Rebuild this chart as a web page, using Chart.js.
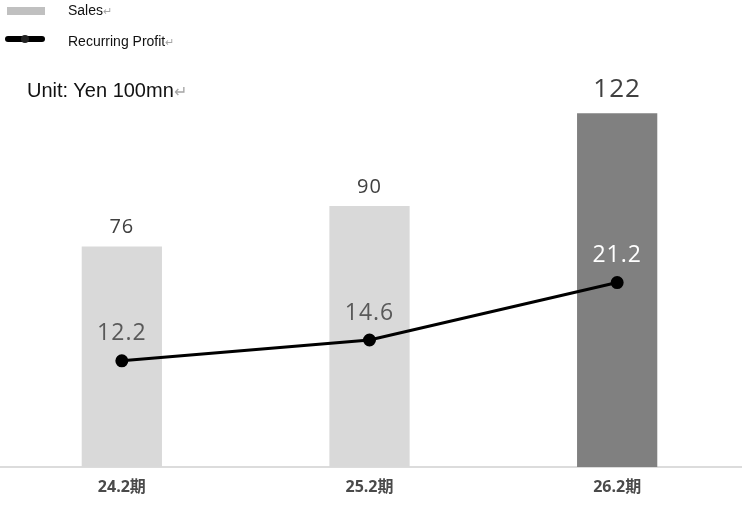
<!DOCTYPE html>
<html>
<head>
<meta charset="utf-8">
<script src="https://cdn.jsdelivr.net/npm/chart.js@4"></script>
<style>
  body { margin: 0; background: #fff; }
  #wrap { position: relative; width: 745px; height: 505px; overflow: hidden; }
  #chart { position: absolute; left: -10px; top: 0; }
  .lg { position: absolute; font-family: "Liberation Sans", Arial, sans-serif; color: #111; white-space: nowrap; }
  .pm { color: #a6a6a6; font-size: 0.8em; }
  #lgSales { left: 68px; top: 2px; font-size: 14px; }
  #lgProfit { left: 68px; top: 33px; font-size: 14px; }
  #unit { left: 27px; top: 79px; font-size: 20px; }
  #boxSales { position: absolute; left: 7px; top: 7px; width: 38px; height: 8px; background: #c0c0c0; }
  #lineProfit { position: absolute; left: 5px; top: 36px; width: 40px; height: 6px; border-radius: 3px; background: #000; }
  #dotProfit { position: absolute; left: 21px; top: 35px; width: 8px; height: 8px; border-radius: 4px; background: #222; }
</style>
</head>
<body>
<div id="wrap">
  <canvas id="chart" width="759" height="505"></canvas>
  <div id="boxSales"></div>
  <div id="lineProfit"></div>
  <div id="dotProfit"></div>
  <div class="lg" id="lgSales">Sales<span class="pm">↵</span></div>
  <div class="lg" id="lgProfit">Recurring Profit<span class="pm">↵</span></div>
  <div class="lg" id="unit">Unit: Yen 100mn<span class="pm">↵</span></div>
</div>
<script>
const periods = ['24.2期', '25.2期', '26.2期'];
const sales = [76, 90, 122];
const recurringProfit = [12.2, 14.6, 21.2];
const barColors = ['#d9d9d9', '#d9d9d9', '#808080'];

const valueLabels = {
    id: 'valueLabels',
    afterDatasetsDraw(chart) {
        const ctx = chart.ctx;
        ctx.save();
        ctx.textAlign = 'center';
        ctx.textBaseline = 'middle';
        ctx.letterSpacing = '1px';

        // dataset 1 = bars (sales)
        chart.getDatasetMeta(1).data.forEach((bar, i) => {
            const big = i === 2;
            ctx.font = (big ? '26px' : '20px') + ' "Open Sans", sans-serif';
            ctx.fillStyle = '#404040';
            ctx.fillText(String(sales[i]), bar.x, bar.y - (big ? 24 : 19));
        });

        // dataset 0 = line (profit)
        chart.getDatasetMeta(0).data.forEach((pt, i) => {
            ctx.font = '23px "Open Sans", sans-serif';
            ctx.fillStyle = i === 2 ? '#ffffff' : '#595959';
            ctx.fillText(recurringProfit[i].toFixed(1), pt.x, pt.y - 27);
        });
        ctx.restore();
    }
};

new Chart(document.getElementById('chart'), {
    data: {
        labels: periods,
        datasets: [
            {
                type: 'line',
                label: 'Recurring Profit',
                data: recurringProfit,
                yAxisID: 'y1',
                borderColor: '#000',
                backgroundColor: '#000',
                borderWidth: 3,
                pointRadius: 5,
                pointHoverRadius: 5,
                tension: 0,
                order: 0
            },
            {
                type: 'bar',
                label: 'Sales',
                data: sales,
                yAxisID: 'y',
                backgroundColor: barColors,
                barPercentage: 0.324,
                categoryPercentage: 1,
                order: 1
            }
        ]
    },
    options: {
        responsive: false,
        animation: false,
        layout: { padding: { top: 32, left: 0, right: 0, bottom: 0 } },
        plugins: {
            legend: { display: false },
            tooltip: { enabled: false }
        },
        scales: {
            x: {
                grid: { display: false, drawTicks: false },
                border: { display: true, color: '#dcdcdc', width: 2 },
                ticks: {
                    color: '#4a4a4a',
                    font: { family: '"Open Sans", "Noto Sans CJK JP", sans-serif', size: 16, weight: 'bold' },
                    padding: 11
                },
                afterFit: s => { s.height = 38; }
            },
            y: { display: false, min: 0, max: 150 },
            y1: { display: false, min: 0, max: 50, position: 'right' }
        }
    },
    plugins: [valueLabels]
});
</script>
</body>
</html>
